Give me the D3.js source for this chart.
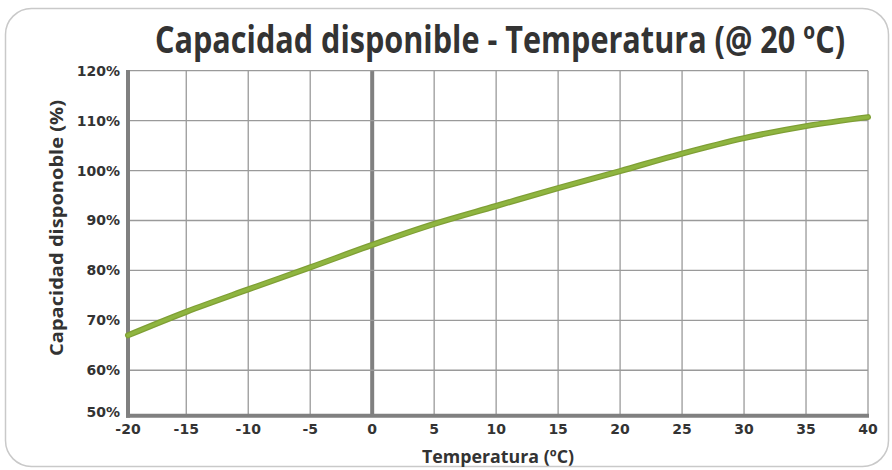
<!DOCTYPE html>
<html>
<head>
<meta charset="utf-8">
<script src="https://cdn.jsdelivr.net/npm/d3@7"></script>
<style>
  body { margin: 0; background: #fff; }
  svg text { fill: #333; }
</style>
</head>
<body>
<div id="chart"></div>
<script>
// temperature (ºC) vs available capacity (%)
var temps = [-20, -15, -10, -5, 0, 5, 10, 15, 20, 25, 30, 35, 40];
var capacity = [67.0, 71.7, 76.2, 80.6, 85.1, 89.3, 92.9, 96.5, 99.9, 103.4, 106.5, 108.9, 110.7];
var xTicks = [-20, -15, -10, -5, 0, 5, 10, 15, 20, 25, 30, 35, 40];
var yTicks = [50, 60, 70, 80, 90, 100, 110, 120];

var W = 892, H = 470;
var plotLeft = 128, plotRight = 868, plotTop = 70.7, plotBottom = 415.7;

var svg = d3.select('#chart')
    .append('svg')
    .attr('width', W)
    .attr('height', H);

// frame
svg.append('rect')
    .attr('x', 5.5).attr('y', 8.5)
    .attr('width', 883).attr('height', 458)
    .attr('rx', 26).attr('ry', 26)
    .attr('fill', 'none')
    .attr('stroke', '#c9c9c9')
    .attr('stroke-width', 1.5);

// the picture's axes start a bit inside -20 and 50%
var x = d3.scaleLinear().domain([-19.7, 40]).range([plotLeft, plotRight]).clamp(true);
var y = d3.scaleLinear().domain([50.9, 120]).range([plotBottom, plotTop]).clamp(true);

// grid
svg.append('g')
    .selectAll('line')
    .data(xTicks)
    .enter()
    .append('line')
    .attr('x1', function(d) { return x(d); })
    .attr('x2', function(d) { return x(d); })
    .attr('y1', plotTop).attr('y2', plotBottom)
    .attr('stroke', function(d) { return d == 0 ? '#808080' : '#9a9a9a'; })
    .attr('stroke-width', function(d) { return d == 0 ? 4 : 1.3; });

svg.append('g')
    .selectAll('line')
    .data(yTicks)
    .enter()
    .append('line')
    .attr('x1', plotLeft).attr('x2', plotRight)
    .attr('y1', function(d) { return y(d); })
    .attr('y2', function(d) { return y(d); })
    .attr('stroke', '#9a9a9a')
    .attr('stroke-width', 1.3);

// thick axis lines
svg.append('line')
    .attr('x1', plotLeft).attr('x2', plotLeft)
    .attr('y1', plotTop - 0.7).attr('y2', plotBottom + 2)
    .attr('stroke', '#808080').attr('stroke-width', 4);
svg.append('line')
    .attr('x1', plotLeft - 2).attr('x2', plotRight + 1)
    .attr('y1', plotBottom).attr('y2', plotBottom)
    .attr('stroke', '#808080').attr('stroke-width', 4);

// tick labels
svg.append('g')
    .selectAll('text')
    .data(xTicks)
    .enter()
    .append('text')
    .attr('x', function(d) { return x(d); })
    .attr('y', 434)
    .attr('text-anchor', 'middle')
    .style('font', 'bold 14px "DejaVu Sans"')
    .text(function(d) { return d; });

svg.append('g')
    .selectAll('text')
    .data(yTicks)
    .enter()
    .append('text')
    .attr('x', 120)
    .attr('y', function(d) { return (d == 50 ? y(d) - 4 : y(d)) + 5; })
    .attr('text-anchor', 'end')
    .style('font', 'bold 14px "DejaVu Sans"')
    .text(function(d) { return d + '%'; });

// curve
var line = d3.line()
    .x(function(d, i) { return x(temps[i]); })
    .y(function(d) { return y(d); })
    .curve(d3.curveMonotoneX);

svg.append('path')
    .datum(capacity)
    .attr('d', line)
    .attr('fill', 'none')
    .attr('stroke', '#7f9f35')
    .attr('stroke-width', 6)
    .attr('stroke-linecap', 'round');
svg.append('path')
    .datum(capacity)
    .attr('d', line)
    .attr('fill', 'none')
    .attr('stroke', '#8fb540')
    .attr('stroke-width', 3.5)
    .attr('stroke-linecap', 'round');

// title and axis titles
svg.append('text')
    .attr('x', 500)
    .attr('y', 53)
    .attr('text-anchor', 'middle')
    .attr('textLength', 690)
    .attr('lengthAdjust', 'spacingAndGlyphs')
    .style('font', 'bold 37px "Open Sans"')
    .text('Capacidad disponible - Temperatura (@ 20 ºC)');

svg.append('text')
    .attr('transform', 'translate(63,228) rotate(-90)')
    .attr('text-anchor', 'middle')
    .attr('textLength', 256)
    .attr('lengthAdjust', 'spacingAndGlyphs')
    .style('font', 'bold 18px "Open Sans"')
    .text('Capacidad disponoble (%)');

svg.append('text')
    .attr('x', 498)
    .attr('y', 463)
    .attr('text-anchor', 'middle')
    .attr('textLength', 152)
    .attr('lengthAdjust', 'spacingAndGlyphs')
    .style('font', 'bold 18px "Open Sans"')
    .text('Temperatura (ºC)');
</script>
</body>
</html>
